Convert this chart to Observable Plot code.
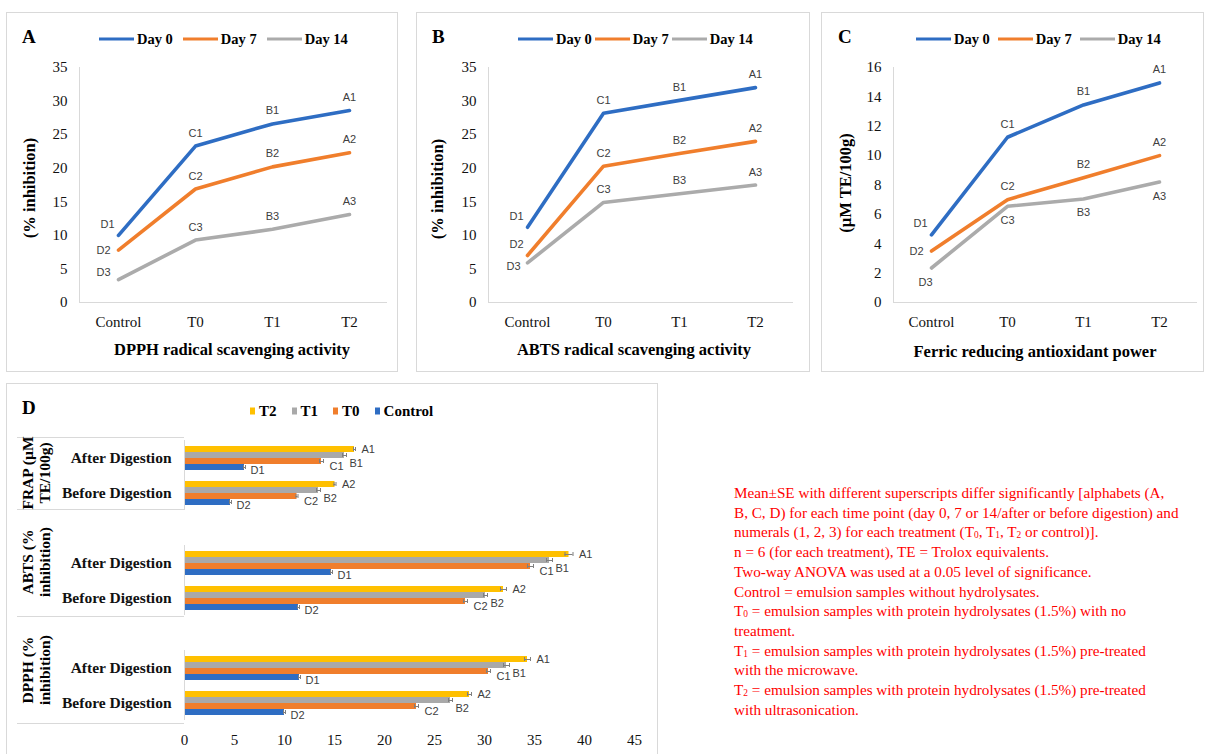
<!DOCTYPE html>
<html><head><meta charset="utf-8">
<script src="https://cdn.jsdelivr.net/npm/d3@7"></script>
<script src="https://cdn.jsdelivr.net/npm/@observablehq/plot@0.6"></script>
<style>
body{margin:0;background:#fff;}
#root{position:relative;width:1206px;height:754px;overflow:hidden;font-family:"Liberation Serif",serif;color:#000;}
#root svg{position:absolute;}
sub{font-size:0.62em;vertical-align:baseline;position:relative;top:0.1em;line-height:0;}
</style></head><body><div id="root"></div>
<script>
// ---------- data ----------
const treatments = ["Control", "T0", "T1", "T2"];
const days = ["Day 0", "Day 7", "Day 14"];
const dpphDay0 = [10.0, 23.3, 26.6, 28.6];
const dpphDay7 = [7.8, 16.9, 20.2, 22.3];
const dpphDay14 = [3.4, 9.3, 10.9, 13.1];
const abtsDay0 = [11.2, 28.2, 30.1, 32.0];
const abtsDay7 = [7.0, 20.3, 22.2, 24.0];
const abtsDay14 = [5.9, 14.9, 16.2, 17.5];
const frapDay0 = [4.6, 11.25, 13.45, 14.95];
const frapDay7 = [3.5, 7.0, 8.5, 10.0];
const frapDay14 = [2.35, 6.55, 7.05, 8.2];
const lettersDay0 = ["D1", "C1", "B1", "A1"];
const lettersDay7 = ["D2", "C2", "B2", "A2"];
const lettersDay14 = ["D3", "C3", "B3", "A3"];

const barSeries = ["T2", "T1", "T0", "Control"];
const barGroups = ["FRAP", "ABTS", "DPPH"];
const barGroupLabels = ["FRAP (µM<br>TE/100g)", "ABTS (%<br>inhibition)", "DPPH (%<br>inhibition)"];
const stages = ["After Digestion", "Before Digestion"];
const frapAfter = [17.0, 16.0, 13.7, 6.0];
const frapBefore = [15.05, 13.4, 11.25, 4.6];
const abtsAfter = [38.45, 36.5, 34.6, 14.7];
const abtsBefore = [31.9, 30.1, 28.1, 11.4];
const dpphAfter = [34.3, 32.2, 30.4, 11.5];
const dpphBefore = [28.5, 26.6, 23.2, 10.0];
const frapAfterSE = [0.1, 0.2, 0.2, 0.1];
const frapBeforeSE = [0.1, 0.2, 0.1, 0.1];
const abtsAfterSE = [0.4, 0.3, 0.3, 0.1];
const abtsBeforeSE = [0.3, 0.2, 0.2, 0.1];
const dpphAfterSE = [0.3, 0.3, 0.2, 0.1];
const dpphBeforeSE = [0.2, 0.2, 0.2, 0.1];
const lettersAfter = ["A1", "B1", "C1", "D1"];
const lettersBefore = ["A2", "B2", "C2", "D2"];
const xTicksD = [0, 5, 10, 15, 20, 25, 30, 35, 40, 45];

const noteLines = [
  "Mean±SE with different superscripts differ significantly [alphabets (A,",
  "B, C, D) for each time point (day 0, 7 or 14/after or before digestion) and",
  "numerals (1, 2, 3) for each treatment (T<sub>0</sub>, T<sub>1</sub>, T<sub>2</sub> or control)].",
  "n = 6 (for each treatment), TE = Trolox equivalents.",
  "Two-way ANOVA was used at a 0.05 level of significance.",
  "Control = emulsion samples without hydrolysates.",
  "T<sub>0</sub> = emulsion samples with protein hydrolysates (1.5%) with no",
  "treatment.",
  "T<sub>1</sub> = emulsion samples with protein hydrolysates (1.5%) pre-treated",
  "with the microwave.",
  "T<sub>2</sub> = emulsion samples with protein hydrolysates (1.5%) pre-treated",
  "with ultrasonication."
];

// ---------- styles ----------
const lineColors = ["#2E6DC3", "#F07E2C", "#ABABAB"];
const barColors = ["#FFC000", "#A9A9A9", "#F07E2C", "#2E6DC3"];
const labelOffsets = {above:[0,-13], upleft:[-11,-11], left:[-15,0], leftup:[-15,-7], leftdown:[-14,4], below:[0,14], belowleft:[-6,14]};
const placeA = [["upleft","above","above","above"],["left","above","above","above"],["leftup","above","above","above"]];
const placeB = [["upleft","above","above","above"],["upleft","above","above","above"],["leftdown","above","above","above"]];
const placeC = [["upleft","above","above","above"],["left","above","above","above"],["belowleft","below","below","below"]];

const root = document.getElementById("root");
function el(css, html) {
  const e = document.createElement("div");
  e.style.cssText = "position:absolute;" + css;
  if (html != null) e.innerHTML = html;
  root.appendChild(e);
  return e;
}
function place(svg, left, top) { svg.style.left = left + "px"; svg.style.top = top + "px"; root.appendChild(svg); }
const baseStyle = {fontFamily: "Liberation Serif", fontSize: "15px", color: "#111", background: "transparent", overflow: "visible"};

function linePanel(series, letters, plc, yMax, yStep, w, h, ml, mr) {
  const rows = [];
  days.forEach((d, i) => treatments.forEach((t, j) => rows.push({day: d, t, v: series[i][j], lab: letters[i][j], pos: plc[i][j]})));
  const labelMarks = Object.entries(labelOffsets).map(([k, [dx, dy]]) =>
    Plot.text(rows.filter(r => r.pos === k), {x: "t", y: "v", text: "lab", dx, dy, fontFamily: "Liberation Sans", fontSize: 11, fill: "#404040"}));
  return Plot.plot({
    width: w, height: h, marginTop: 55, marginBottom: 70, marginLeft: ml, marginRight: mr,
    style: baseStyle,
    x: {type: "point", domain: treatments, padding: 0.5},
    y: {domain: [0, yMax]},
    color: {domain: days, range: lineColors},
    marks: [
      Plot.ruleY([0], {stroke: "#d9d9d9"}),
      Plot.frame({anchor: "left", stroke: "#d9d9d9"}),
      Plot.axisY({ticks: d3.range(0, yMax + 0.001, yStep), tickSize: 0, tickPadding: 12, label: null, fontSize: 15}),
      Plot.axisX({tickSize: 0, tickPadding: 14, label: null, fontSize: 15}),
      Plot.line(rows, {x: "t", y: "v", z: "day", stroke: "day", strokeWidth: 3.6}),
      ...labelMarks
    ]
  });
}

function lineLegend(x, y, gap) {
  const box = el(`left:${x}px;top:${y}px;transform:translateY(-50%);display:flex;align-items:center;white-space:nowrap;font:bold 14.5px 'Liberation Serif';`);
  days.forEach((d, i) => {
    const it = document.createElement("div");
    it.style.cssText = `display:flex;align-items:center;margin-right:${gap}px;`;
    it.innerHTML = `<span style="display:inline-block;width:35px;height:3.5px;background:${lineColors[i]};margin-right:3px"></span><span>${d}</span>`;
    box.appendChild(it);
  });
}
function centered(x, y, text, css) { return el(`left:${x}px;top:${y}px;transform:translate(-50%,-50%);white-space:nowrap;${css}`, text); }
function rotated(x, y, text, css) { return el(`left:${x}px;top:${y}px;transform:translate(-50%,-50%) rotate(-90deg);white-space:nowrap;text-align:center;${css}`, text); }

const boxCss = "border:1px solid #d9d9d9;box-sizing:border-box;";
// panel boxes
el(`left:6px;top:12px;width:392px;height:360px;${boxCss}`);
el(`left:416px;top:12px;width:394px;height:360px;${boxCss}`);
el(`left:821px;top:12px;width:383px;height:360px;${boxCss}`);
el(`left:6px;top:383px;width:652px;height:380px;${boxCss}`);

// ---------- panels A, B, C ----------
place(linePanel([dpphDay0, dpphDay7, dpphDay14], [lettersDay0, lettersDay7, lettersDay14], placeA, 35, 5, 393, 360, 74, 11), 5, 12);
place(linePanel([abtsDay0, abtsDay7, abtsDay14], [lettersDay0, lettersDay7, lettersDay14], placeB, 35, 5, 394, 360, 72, 17), 416, 12);
place(linePanel([frapDay0, frapDay7, frapDay14], [lettersDay0, lettersDay7, lettersDay14], placeC, 16, 2, 383, 360, 72, 7), 821, 12);

const titleCss = "font:bold 19px 'Liberation Serif';";
el(`left:22px;top:26px;${titleCss}`, "A");
el(`left:432px;top:26px;${titleCss}`, "B");
el(`left:838px;top:26px;${titleCss}`, "C");
lineLegend(99, 39, 10);
lineLegend(518, 39, 3);
lineLegend(916, 39, 8);

const axTitle = "font:bold 16.5px 'Liberation Serif';";
rotated(30, 188, "(% inhibition)", axTitle);
rotated(438, 189, "(% inhibition)", axTitle);
rotated(846, 183, "(µM TE/100g)", axTitle);
centered(232, 350, "DPPH radical scavenging activity", axTitle);
centered(634, 350, "ABTS radical scavenging activity", axTitle);
centered(1035, 352, "Ferric reducing antioxidant power", axTitle);

// ---------- panel D ----------
const barVals = {FRAP: [frapAfter, frapBefore], ABTS: [abtsAfter, abtsBefore], DPPH: [dpphAfter, dpphBefore]};
const barSE = {FRAP: [frapAfterSE, frapBeforeSE], ABTS: [abtsAfterSE, abtsBeforeSE], DPPH: [dpphAfterSE, dpphBeforeSE]};
const barLetters = [lettersAfter, lettersBefore];
const dCats = [];
barGroups.forEach((g, gi) => { if (gi > 0) dCats.push("gap" + gi); stages.forEach(s => dCats.push(g + "|" + s)); });
const dRows = [];
barGroups.forEach(g => stages.forEach((s, si) => barSeries.forEach((ser, k) => dRows.push({
  cat: g + "|" + s, s: ser, v: barVals[g][si][k], se: barSE[g][si][k], lab: barLetters[si][k]
}))));
const barLabelDx = {T2: 6, T1: 3, T0: 6, Control: 5};
const barLabelDy = {T2: 0, T1: 8, T0: 5, Control: 3};

const plotD = Plot.plot({
  width: 653, height: 371, marginLeft: 178, marginRight: 25, marginTop: 54, marginBottom: 31,
  style: baseStyle,
  x: {domain: [0, 45]},
  fy: {domain: dCats, padding: 0},
  y: {domain: barSeries, paddingInner: 0, paddingOuter: 0.88},
  color: {domain: barSeries, range: barColors},
  marks: [
    Plot.barX(dRows, {fy: "cat", y: "s", x: "v", fill: "s"}),
    Plot.ruleY(dRows, {fy: "cat", y: "s", x1: d => d.v - d.se, x2: d => d.v + d.se, stroke: "#7f7f7f", strokeWidth: 1}),
    Plot.tickX(dRows, {fy: "cat", y: "s", x: d => d.v - d.se, stroke: "#7f7f7f", insetTop: 1, insetBottom: 1}),
    Plot.tickX(dRows, {fy: "cat", y: "s", x: d => d.v + d.se, stroke: "#7f7f7f", insetTop: 1, insetBottom: 1}),
    ...barSeries.map(ser => Plot.text(dRows.filter(d => d.s === ser), {
      fy: "cat", y: "s", x: d => d.v + d.se, text: "lab", textAnchor: "start",
      dx: barLabelDx[ser], dy: barLabelDy[ser], fontFamily: "Liberation Sans", fontSize: 11, fill: "#404040"})),
    Plot.ruleX([0], {stroke: "#d9d9d9"}),
    Plot.axisFy({anchor: "left", tickSize: 0, tickPadding: 13, label: null, fontWeight: "bold", fontSize: 15.5,
      tickFormat: d => d.includes("|") ? d.split("|")[1] : ""}),
    Plot.axisX({facetAnchor: "bottom", ticks: xTicksD, tickSize: 0, tickPadding: 14, label: null, fontSize: 15}),
    Plot.axisY({ticks: [], label: null, tickSize: 0})
  ]
});
place(plotD, 6, 383);

el(`left:22px;top:397px;${titleCss}`, "D");
// legend D
const legD = el(`left:250px;top:411px;transform:translateY(-50%);display:flex;align-items:center;white-space:nowrap;font:bold 15px 'Liberation Serif';`);
barSeries.forEach((s, i) => {
  const it = document.createElement("div");
  it.style.cssText = "display:flex;align-items:center;margin-right:15px;";
  it.innerHTML = `<span style="display:inline-block;width:5px;height:7px;background:${barColors[i]};margin-right:4px"></span><span>${s}</span>`;
  legD.appendChild(it);
});
// table lines and group labels
[437, 509, 616, 723].forEach(y => el(`left:17px;top:${y}px;width:167px;height:1px;background:#d9d9d9;`));
const groupCenters = [473, 562, 670];
barGroupLabels.forEach((g, i) => rotated(36, groupCenters[i], g, "font:bold 15.5px 'Liberation Serif';line-height:17px;"));

// ---------- notes ----------
noteLines.forEach((l, i) => el(`left:734px;top:${483 + i * 19.7}px;height:19.7px;color:#ff0000;font:15.2px 'Liberation Serif';line-height:19.7px;white-space:nowrap;`, l));
</script></body></html>
